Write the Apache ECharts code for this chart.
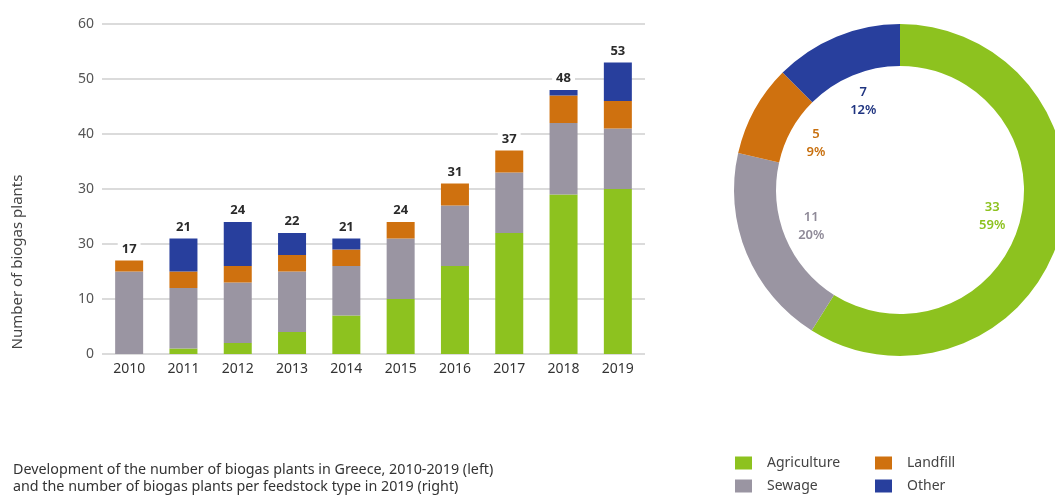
<!DOCTYPE html>
<html>
<head>
<meta charset="utf-8">
<script src="https://cdn.jsdelivr.net/npm/echarts@6/dist/echarts.min.js"></script>
<style>
html,body{margin:0;padding:0;background:#fff;}
#c{width:1055px;height:496px;}
</style>
</head>
<body>
<div id="c"></div>
<script>
const years = ['2010','2011','2012','2013','2014','2015','2016','2017','2018','2019'];
const agriculture = [0, 1, 2, 4, 7, 10, 16, 22, 29, 30];
const sewage      = [15, 11, 11, 11, 9, 11, 11, 11, 13, 11];
const landfill    = [2, 3, 3, 3, 3, 3, 4, 4, 5, 5];
const other       = [0, 6, 8, 4, 2, 0, 0, 0, 1, 7];
const totals      = [17, 21, 24, 22, 21, 24, 31, 37, 48, 53];
const yTickLabels = ['0','10','30','30','40','50','60'];

const pieNames  = ['Agriculture','Sewage','Landfill','Other'];
const pieValues = [33, 11, 5, 7];

const seriesNames = ['Agriculture','Sewage','Landfill','Other'];
const colors = ['#8dc21f','#9a95a2','#cf710f','#283f9d'];
const labelColors = ['#8dc21f','#8f8a98','#c8700f','#1f3480'];
const FONT = 'Noto Sans';

const chart = echarts.init(document.getElementById('c'), null, {renderer:'canvas'});

const barData = [agriculture, sewage, landfill, other];
const series = barData.map((d, i) => ({
  name: seriesNames[i],
  type: 'bar',
  stack: 'total',
  barWidth: 28,
  data: d,
  itemStyle: {color: colors[i]},
  emphasis: {disabled: true}
}));
series.push({
  name: 'Total',
  type: 'bar',
  barWidth: 28,
  barGap: '-100%',
  data: totals,
  itemStyle: {color: 'rgba(0,0,0,0)'},
  silent: true,
  z: 1,
  label: {
    show: true, position: 'top', distance: 5,
    color: '#2b2b2b', fontWeight: 'bold', fontSize: 13, fontFamily: FONT,
    backgroundColor: '#fff', padding: [0, 4]
  }
});
series.push({
  name: 'pie',
  type: 'pie',
  center: [900, 190],
  radius: [124, 166],
  startAngle: 90,
  clockwise: true,
  label: {show: false},
  labelLine: {show: false},
  emphasis: {disabled: true},
  data: pieNames.map((n, i) => ({name: n, value: pieValues[i], itemStyle: {color: colors[i]}}))
});
series.push({
  name: 'pieLabels',
  type: 'pie',
  center: [900, 190],
  radius: [0, 186],
  startAngle: 90,
  clockwise: true,
  percentPrecision: 0,
  silent: true,
  labelLine: {show: false},
  emphasis: {disabled: true},
  label: {
    show: true, position: 'inside',
    formatter: '{c}\n{d}%',
    fontSize: 13, fontWeight: 600, fontFamily: FONT, lineHeight: 18
  },
  data: pieNames.map((n, i) => ({
    name: n, value: pieValues[i],
    itemStyle: {color: 'rgba(0,0,0,0)'},
    label: {color: labelColors[i]}
  }))
});

const legendCommon = {
  orient: 'vertical', top: 456, padding: 0,
  itemWidth: 17, itemHeight: 13, itemGap: 9, icon: 'rect',
  textStyle: {color: '#444', fontSize: 14, fontFamily: FONT, padding: [0, 0, 0, 10]},
  selectedMode: false
};

const option = {
  animation: false,
  textStyle: {fontFamily: FONT},
  grid: {left: 102, right: 410, top: 24, bottom: 142, containLabel: false},
  xAxis: {
    type: 'category',
    data: years,
    axisLine: {show: false},
    axisTick: {show: false},
    axisLabel: {color: '#333', fontSize: 14, fontFamily: FONT, margin: 8}
  },
  yAxis: {
    type: 'value',
    min: 0, max: 60, interval: 10,
    axisLine: {show: false},
    axisTick: {show: false},
    splitLine: {lineStyle: {color: '#cfcfcf', width: 1.5}},
    axisLabel: {
      color: '#555', fontSize: 14, fontFamily: FONT, margin: 8,
      formatter: v => yTickLabels[Math.round(v / 10)]
    }
  },
  legend: [
    Object.assign({}, legendCommon, {left: 735, data: ['Agriculture', 'Sewage']}),
    Object.assign({}, legendCommon, {left: 875, data: ['Landfill', 'Other']})
  ],
  graphic: [
    {
      type: 'text', x: 18, y: 262, rotation: Math.PI / 2,
      style: {text: 'Number of biogas plants', fill: '#444', font: '15px "Noto Sans"', align: 'center', verticalAlign: 'middle'}
    },
    {
      type: 'text', left: 13, top: 461,
      style: {text: 'Development of the number of biogas plants in Greece, 2010-2019 (left)\nand the number of biogas plants per feedstock type in 2019 (right)',
        fill: '#333', font: '14.3px "Noto Sans"', lineHeight: 17}
    }
  ],
  series: series
};
chart.setOption(option);
</script>
</body>
</html>
